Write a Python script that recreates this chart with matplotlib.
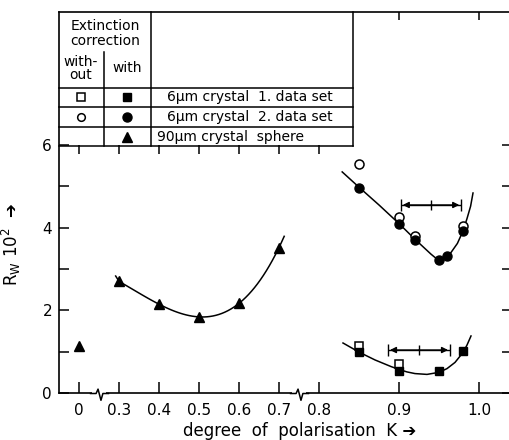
import matplotlib
matplotlib.use("Agg")
import matplotlib.pyplot as plt
import numpy as np
from matplotlib.lines import Line2D
from matplotlib.path import Path

plt.rcParams['font.family'] = ['DejaVu Sans']
plt.rcParams['mathtext.default'] = 'regular'

# --- data ----------------------------------------------------------------
# 90 um crystal sphere, with extinction correction (triangles)
tri_K = [0.0, 0.3, 0.4, 0.5, 0.6, 0.7]
tri_R = [1.13, 2.7, 2.15, 1.84, 2.17, 3.52]

# 6 um crystal, 2. data set (circles)
circ_K = [0.85, 0.90, 0.92, 0.95, 0.96, 0.98]
circ_R_with = [4.97, 4.09, 3.70, 3.22, 3.32, 3.93]
circ_open_K = [0.85, 0.90, 0.92, 0.98]
circ_R_without = [5.54, 4.27, 3.79, 4.05]

# 6 um crystal, 1. data set (squares)
sq_K = [0.85, 0.90, 0.95, 0.98]
sq_R_with = [0.99, 0.53, 0.54, 1.02]
sq_open_K = [0.85, 0.90]
sq_R_without = [1.13, 0.70]

# hand drawn guide curves
circ_curve_K = [0.829, 0.85, 0.875, 0.90, 0.92, 0.94, 0.95, 0.957, 0.965, 0.973, 0.98, 0.985, 0.9895, 0.9925]
circ_curve_R = [5.35, 4.98, 4.55, 4.10, 3.72, 3.36, 3.20, 3.26, 3.40, 3.62, 3.92, 4.22, 4.52, 4.84]
sq_curve_K = [0.83, 0.85, 0.87, 0.89, 0.90, 0.91, 0.92, 0.935, 0.95, 0.96, 0.97, 0.98, 0.985, 0.99]
sq_curve_R = [1.21, 0.99, 0.80, 0.64, 0.57, 0.51, 0.47, 0.45, 0.50, 0.59, 0.74, 0.98, 1.16, 1.38]

# range bars (centre, half width, height)
bar_K = [0.94, 0.925]
bar_half = [0.038, 0.039]
bar_R = [4.55, 1.04]

x_ticks = [0, 0.3, 0.4, 0.5, 0.6, 0.7, 0.8, 0.9, 1.0]
x_ticklabels = ['0', '0.3', '0.4', '0.5', '0.6', '0.7', '0.8', '0.9', '1.0']
y_ticks = [0, 1, 2, 3, 4, 5, 6]
y_ticklabels = ['0', '', '2', '', '4', '', '6']
breaks_K = [0.15, 0.75]

legend_rows = ['6\u03bcm crystal  1. data set', '6\u03bcm crystal  2. data set', '90\u03bcm crystal  sphere']

# --- broken K axis: 0 | 0.3 .. 0.8 | 0.8 .. 1.0 (stretched) ---------------
knots_K = [-0.15, 0.0, 0.3, 0.8, 1.0, 1.2]
knots_u = [-0.5, 0.0, 1.0, 6.0, 10.0, 14.0]


def forward(k):
    return np.interp(k, knots_K, knots_u)


def inverse(u):
    return np.interp(u, knots_u, knots_K)


W, H = 509, 440
fig = plt.figure(figsize=(W / 100, H / 100), dpi=100)
ax = fig.add_axes([59 / W, 47 / H, 1 - 59 / W, (393 - 12) / H])
ax.set_xscale('function', functions=(forward, inverse))
ax.set_xlim(-0.15, 1.0375)
ax.set_ylim(0, 9.22)

k = 'black'
# curves
tk = np.linspace(0.275, 0.713, 60)
ax.plot(tk, np.polyval(np.polyfit(tri_K[1:], tri_R[1:], 3), tk), color=k, lw=1.1)
ax.plot(circ_curve_K, circ_curve_R, color=k, lw=1.1)
ax.plot(sq_curve_K, sq_curve_R, color=k, lw=1.1)

# points
ax.plot(circ_open_K, circ_R_without, 'o', ms=6.5, mfc='white', mec=k, mew=1.1, zorder=3)
ax.plot(circ_K, circ_R_with, 'o', ms=6.5, color=k, zorder=4)
ax.plot(sq_open_K, sq_R_without, 's', ms=5.5, mfc='white', mec=k, mew=1.1, zorder=3)
ax.plot(sq_K, sq_R_with, 's', ms=5.5, color=k, zorder=4)
ax.plot(tri_K, tri_R, '^', ms=7, color=k, zorder=4)

# range bars
for c, h, r in zip(bar_K, bar_half, bar_R):
    ax.errorbar(c, r, xerr=h, fmt='|', ms=7, mew=1, capsize=4, capthick=1, color=k, lw=1)
    for end in (c - h, c + h):
        ax.annotate('', xy=(end, r), xytext=(c, r),
                    arrowprops=dict(arrowstyle='-|>', color=k, lw=1, mutation_scale=9,
                                    shrinkA=0, shrinkB=1.5))

# axes styling
ax.spines['right'].set_visible(False)
for s in ('left', 'bottom', 'top'):
    ax.spines[s].set_linewidth(1.2)
ax.set_xticks(x_ticks)
ax.set_xticklabels(x_ticklabels)
ax.set_yticks(y_ticks)
ax.set_yticklabels(y_ticklabels)
ax.minorticks_off()
ax.tick_params(axis='x', direction='in', length=8, width=1.1, pad=7, labelsize=11)
ax.tick_params(axis='y', direction='in', length=7, width=1.1, pad=5, labelsize=11,
               right=True)
for t in ax.yaxis.get_major_ticks():
    t.tick2line.set_markersize(5)

# top ticks (right part) and ticks hanging below the table
ax.vlines([0.9, 1.0], 9.22 - 0.2, 9.22, color=k, lw=1.1)
ax.vlines(x_ticks[:7], 6 - 0.22, 6, color=k, lw=1.1)

# axis breaks
zig = Path([(-1, 0), (-0.35, 0), (-0.15, 0.45), (0.15, -0.7), (0.35, 0), (1, 0)])
for kb in breaks_K:
    ax.plot(kb, 0, marker='_', ms=10, mew=4, color='white', clip_on=False, zorder=5)
    ax.plot(kb, 0, marker=zig, ms=14, mfc='none', mec=k, mew=1.1, clip_on=False, zorder=6)

ax.set_xlabel('degree  of  polarisation  K \u2794', fontsize=12)
ax.xaxis.set_label_coords(0.535, -0.075)
ax.set_ylabel('R$_W$ 10$^2$  \u2794', fontsize=12)
ax.yaxis.set_label_coords(-0.08, 0.39)


# --- legend table, in figure pixels ----------------------------------------
def px(x, y):
    return x / W, 1 - y / H


def line(x0, y0, x1, y1):
    (a, b), (c, d) = px(x0, y0), px(x1, y1)
    fig.add_artist(Line2D([a, c], [b, d], color=k, lw=1.1))


for yy in (88, 107, 127, 146):
    line(59, yy, 353, yy)
line(353, 12, 353, 146)
line(151, 12, 151, 146)
line(104, 52, 104, 146)

tkw = dict(fontsize=10, va='center', transform=fig.transFigure)
fig.text(*px(105, 26), 'Extinction', ha='center', **tkw)
fig.text(*px(105, 41), 'correction', ha='center', **tkw)
fig.text(*px(81, 62), 'with-', ha='center', **tkw)
fig.text(*px(81, 75), 'out', ha='center', **tkw)
fig.text(*px(127, 68), 'with', ha='center', **tkw)

row_y = [97.5, 117, 136.5]
row_x = [167, 167, 157]
open_m = [('s', 5.5), ('o', 5.5), (None, 0)]
fill_m = [('s', 5.5), ('o', 6.5), ('^', 7)]
for i, label in enumerate(legend_rows):
    fig.text(*px(row_x[i], row_y[i]), label, ha='left', **tkw)
    m, s = open_m[i]
    if m:
        x, y = px(81, row_y[i])
        fig.add_artist(Line2D([x], [y], marker=m, ms=s, mfc='white', mec=k, mew=1.1, ls='none'))
    m, s = fill_m[i]
    x, y = px(127, row_y[i])
    fig.add_artist(Line2D([x], [y], marker=m, ms=s, color=k, ls='none'))

fig.savefig('out.png', dpi=100)
